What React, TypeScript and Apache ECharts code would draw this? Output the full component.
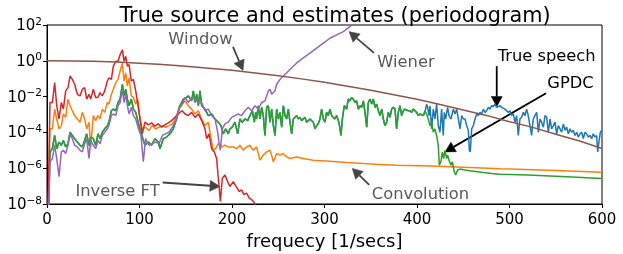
import React, { useEffect, useRef } from "react";
import * as echarts from "echarts";

const FONT = "'DejaVu Sans', 'Liberation Sans', sans-serif";

// All series are [frequency, log10(power)] pairs.
// Segment where "True speech" and "GPDC" coincide.
const sharedSpeechGpdc: [number, number][] = [
  [0,-12],[3.2,-5.1],[5.8,-4.9],[8.3,-4.17],[10.5,-4.91],[13,-4.54],[15.5,-4.72],[17.7,-4.45],[20.2,-4.81],[22.7,-4.63],[24.9,-3.99],[27.4,-4.17],[29.9,-4.35],[32.8,-4.54],[35.7,-4.72],[38.2,-4.81],[40.7,-4.45],[42.9,-4.08],[45.4,-4.72],[47.2,-4.26],[50.1,-4.35],[52.6,-4.72],[55.1,-4.08],[57.3,-4.35],[59.8,-3.99],[62.4,-3.8],[65.2,-3.62],[67,-3.43],[69.6,-2.79],[71.7,-2.7],[74.3,-2.79],[76.8,-2.33],[79,-2.14],[81.5,-1.31],[83.3,-1.96],[85.1,-1.59],[86.9,-2.14],[88.7,-2.51],[91.2,-2.14],[93.4,-2.7],[95.9,-2.88],[99.5,-3.62],
  [103,-4.26],[105.9,-4.72],[109.5,-4.54],[113.1,-4.72],[116.7,-4.35],[120.3,-4.54],[122.1,-4.91],[125.7,-4.35],[129.3,-4.26],[132.9,-4.08],[136.5,-3.8],[140.1,-3.25],[143.7,-2.51],[147.4,-2.14],[151,-2.05],[152.8,-1.96],[156.4,-2.24],[158.2,-1.68],[160,-2.33],[161.8,-1.87],[163.6,-2.51],[165.4,-1.68],[167.2,-2.51],[170.8,-2.7],[174.4,-3.06],[178,-2.97],[181.6,-3.25],[185.2,-3.43],[188.1,-3.62],[190.6,-4.08],[193.1,-3.8],[196,-4.08],[197.8,-3.8],
  [200.3,-3.71],[203.2,-3.43],[206.1,-4.08],[208.6,-3.25],[211.1,-3.43],[214,-3.25],[216.9,-3.34],[219.4,-3.06],[222,-2.79],[224.1,-3.43],[225.6,-2.88],[226.6,-3.25],[228.4,-2.51],[230.2,-3.25],[232.1,-2.6],[233.8,-3.06],[235.6,-4.17],[237.5,-2.6],[239.3,-2.51],[241.1,-3.43],[242.9,-2.7],[244.7,-3.62],[246.5,-4.17],[248.3,-2.7],[250.1,-3.25],[251.9,-2.88],[253.7,-3.71],[255.5,-2.51],[257.3,-3.06],[259.1,-3.25],[260.9,-2.7],[262.7,-3.43],[264.5,-4.08],[266.3,-3.25],[268.1,-3.16],[269.9,-3.06],[271.7,-3.25],[273.5,-3.16],[275.3,-3.34],[278.9,-3.16],[280.7,-3.43],[284.3,-3.25],[287.9,-3.43],[289.7,-3.8],[291.5,-3.62],[293.3,-3.52],[295.1,-3.25],
  [296.9,-2.7],[298.7,-3.25],[300.5,-3.43],[302.3,-2.88],[304.1,-3.06],[305.9,-2.7],[307.7,-3.06],[309.5,-3.16],[311.3,-3.25],[313.1,-3.06],[315.6,-3.43],[317.8,-4.17],[319.3,-3.25],[321.4,-2.51],[323.9,-2.7],[325.7,-2.14],[327.5,-2.24],[329.3,-2.05],[331.1,-2.14],[332.9,-2.33],[334.7,-2.24],[336.6,-2.7],[338.4,-2.51],[340.2,-2.6],[342,-2.24],[343.8,-2.88],[345.6,-3.71],[347.4,-2.33],[349.2,-2.14],[351,-2.42],[352.8,-2.14],[354.6,-2.6],[356.4,-2.42],[358.2,-2.79],[360,-3.06],[361.8,-2.7],[363.6,-3.25],[365.4,-3.62],[367.2,-3.43],[369,-2.88],[370.8,-3.16],[372.6,-2.7],[374.4,-2.6],[376.2,-2.7],[378,-3.8],[379.8,-2.88],[381.6,-2.51],[383.4,-3.06],[385.2,-2.79],[387,-2.7],[390.6,-2.79],[392.4,-2.79],[394.2,-2.88],[396,-2.7],[399.6,-2.88],[401.4,-3.06],[403.2,-2.97],
];

const trueSpeechTail: [number, number][] = [
  [406.8,-3.06],[408.6,-2.88],[410.4,-2.42],[411.5,-2.6],[413,-3.06],[414,-2.51],[415.8,-3.8],[417.6,-2.7],[419.4,-3.25],[421.2,-2.42],[423,-3.62],[424.8,-3.99],[426.6,-2.7],[428.4,-4.17],[429.5,-2.88],[431,-3.25],[433.1,-2.6],[434.6,-3.06],[436.7,-3.25],[439.3,-2.7],[441.1,-2.97],[442.9,-2.7],[444.7,-3.25],[446.5,-3.8],[448.3,-3.06],[450.1,-3.25],[451.9,-3.25],[453.7,-3.62],[455.5,-3.89],[456.6,-5],[457.6,-5.09],[459.1,-3.8],[460.9,-3.62],[462.7,-3.25],[464.5,-2.97],[466.3,-3.06],[468.1,-2.88],[469.9,-2.97],[471.7,-2.7],[473.5,-2.88],[475.3,-2.79],[477.1,-2.6],[478.9,-2.7],[480.7,-2.51],[482.5,-2.55],[484.3,-2.42],[486.1,-2.6],[489.7,-2.51],
  [491.5,-2.6],[495.1,-2.7],[498.7,-2.88],[500.5,-2.79],[502.3,-3.06],[504.1,-2.97],[505.9,-3.43],[507.7,-3.06],[509.5,-4.17],[511.3,-3.25],[513.1,-3.16],[514.9,-2.88],[516.7,-3.06],[518.5,-2.7],[520.3,-3.06],[522.1,-3.62],[523.9,-4.17],[525.7,-3.25],[527.5,-3.06],[529.4,-2.88],[531.2,-3.99],[533,-3.25],[534.8,-3.43],[536.6,-3.71],[538.4,-3.06],[540.2,-3.16],[542,-3.99],[543.8,-3.25],[545.6,-3.8],[547.4,-3.62],[549.2,-3.43],[551,-4.08],[552.8,-3.62],[554.6,-3.8],[556.4,-3.99],[558.2,-3.52],[560,-3.89],[561.8,-3.71],[563.6,-4.08],[565.4,-3.8],[567.2,-3.99],[569,-3.89],[570.8,-4.17],[572.6,-3.99],[574.4,-4.26],[576.2,-4.08],[578,-3.99],[579.8,-4.35],[581.6,-3.99],[583.4,-4.08],[585.2,-4.26],[587,-4.17],[588.8,-4.35],[590.6,-4.08],[592.4,-4.26],[594.2,-4.17],[595.3,-5.09],[596.7,-4.54],[598.2,-3.99],[599.6,-3.89],
];

const gpdcTail: [number, number][] = [
  [406.8,-3.06],[408.6,-2.79],[410.4,-2.97],[412.2,-3.25],[414,-3.62],[415.8,-3.43],[417.6,-3.99],[419.4,-3.8],[421.2,-4.17],[423,-4.72],[424.1,-5.83],[425.9,-5.64],[427.4,-5.09],[428.8,-5.46],[430.2,-5],[432,-5.46],[433.1,-5.27],[434.6,-5.55],[436.7,-5.83],[438.2,-5.64],[440.3,-6.2],[441.8,-6.38],[443.9,-6.1],[446.5,-6.05],[451.9,-6.1],[459.1,-6.15],[469.9,-6.23],[480.7,-6.29],[489.7,-6.34],[520,-6.38],[556,-6.47],[600,-6.58],
];

const wienerData: [number, number][] = [
  [0,-12],[3.2,-5.64],[5.8,-5.46],[8.3,-4.72],[10.5,-5.46],[13,-6.47],[15.5,-5.09],[17.7,-5],[20.2,-5.18],[22.7,-4.72],[24.9,-4.08],[27.4,-4.35],[29.9,-4.72],[32.8,-4.81],[35.7,-5],[38.2,-5.09],[40.7,-4.63],[42.9,-4.35],[45.4,-5.46],[47.2,-4.45],[50.1,-4.72],[52.6,-4.91],[55.1,-4.45],[57.3,-4.63],[59.8,-4.17],[62.4,-3.99],[65.2,-3.8],[67,-3.62],[69.6,-3.06],[71.7,-2.97],[74.3,-3.06],[76.8,-2.51],[79,-2.33],[81.5,-1.59],[83.3,-2.33],[85.1,-1.87],[86.9,-2.51],[88.7,-2.97],[91.2,-2.6],[93.4,-3.06],[95.9,-3.25],[99.5,-3.89],[101.6,-4.17],[104.1,-5.64],[106.6,-4.35],[110.2,-4.72],[113.8,-4.63],[117.4,-4.54],[121,-4.63],[124.7,-4.17],[128.3,-4.08],[131.9,-3.99],[135.5,-3.71],[139.1,-3.34],[142.7,-2.7],[146.3,-2.42],[149.2,-2.05],[152.8,-2.33],[156.4,-2.05],[160,-2.14],[163.6,-2.33],[167.2,-2.33],[170.8,-2.79],[174.4,-2.7],[178,-3.06],[181.6,-3.25],[184.5,-3.99],[185.9,-4.54],[187.4,-5],[189.5,-3.8],[192.4,-3.52],[196,-3.43],[199.6,-3.16],[203.2,-3.06],[206.8,-2.97],[210.4,-3.06],[214,-2.79],[217.6,-2.6],[221.2,-2.79],[224.8,-2.51],[228.4,-2.7],[232.1,-2.33],[235.6,-2.24],[239.3,-1.68],[241.1,-1.59],[242.9,-1.87],[246.5,-1.68],[248.3,-1.31],[251.9,-1.04],[255.5,-0.85],[259.1,-0.67],[262.7,-0.49],[269.9,-0.12],[277.1,0.16],[284.3,0.43],[291.5,0.71],[298.7,0.99],[305.9,1.26],[313.1,1.45],[320.3,1.63],[327.5,1.91],[331.1,2.06],[340,2.4],
];

const convolutionData: [number, number][] = [
  [0,-12],[3.2,-3.8],[5.8,-3.8],[8.3,-2.7],[10.5,-3.25],[13,-3.8],[15.5,-3.62],[17.7,-2.97],[20.2,-3.16],[22.7,-2.14],[24.9,-2.51],[27.4,-2.79],[29.9,-3.06],[32.8,-3.25],[35.7,-3.43],[38.2,-2.88],[40.7,-3.25],[42.9,-3.8],[45.4,-3.43],[47.2,-4.81],[50.1,-3.06],[52.6,-3.34],[55.1,-3.06],[57.3,-3.25],[59.8,-2.7],[62.4,-2.88],[65.2,-2.33],[67,-2.42],[69.6,-1.87],[71.7,-1.59],[74.3,-1.22],[76.8,-1.04],[79,-0.58],[81.5,-0.12],[83.3,-1.13],[85.1,-0.67],[86.9,-1.41],[88.7,-0.95],[91.2,-1.96],[93.4,-2.05],[95.9,-2.42],[98,-2.14],[100.5,-3.25],
  [103,-3.8],[106.6,-3.71],[110.2,-3.89],[113.8,-3.62],[117.4,-3.8],[121,-3.71],[124.7,-3.62],[128.3,-3.71],[131.9,-3.62],[135.5,-3.52],[139.1,-3.25],[142.7,-2.6],[146.3,-2.42],[149.2,-2.24],[152.8,-2.51],[156.4,-2.7],[160,-2.97],[163.6,-2.79],[167.2,-3.25],[170.8,-3.62],[174.4,-3.43],[177.3,-4.35],[179.8,-5],[182.3,-4.91],[185.2,-4.63],[188.8,-4.81],[192.4,-4.72],[196,-4.81],[201.4,-4.81],[205,-4.91],[208.6,-4.72],[212.2,-5],[215.8,-4.81],[219.4,-4.72],[223,-5],[226.6,-4.81],[230.2,-5.55],[233.8,-5.27],[237.4,-5.09],[241,-5],[242.8,-5.27],[244.7,-5.64],[248.3,-5.18],[251.9,-5.27],[255.5,-5.18],[259.1,-5.37],[262.7,-5.46],[269.9,-5.37],[277.1,-5.46],[287.9,-5.55],[305.9,-5.61],[323.9,-5.68],[341.9,-5.74],[360,-5.79],[378,-5.83],[414,-5.88],[450,-5.95],[490,-6.03],[550,-6.13],[600,-6.23],
];

const inverseFtData: [number, number][] = [
  [0,-12],[3.2,-2.33],[5.8,-2.33],[8.3,-1.22],[10.5,-2.51],[13,-3.25],[15.5,-2.33],[17.7,-2.7],[20.2,-1.68],[22.7,-1.5],[24.9,-0.85],[27.4,-1.04],[29.9,-1.31],[32.8,-1.87],[35.7,-1.96],[38.2,-1.59],[40.7,-1.5],[42.9,-2.14],[45.4,-1.87],[47.2,-2.14],[50.1,-1.59],[52.6,-2.05],[55.1,-2.05],[57.3,-1.78],[59.8,-1.96],[62.4,-1.68],[65.2,-1.13],[67,-0.95],[69.6,-1.04],[71.7,-0.3],[74.3,-0.03],[76.8,-0.03],[79,0.34],[81.5,0.62],[83.3,-0.03],[85.1,0.25],[86.9,-0.3],[88.7,-0.21],[91.2,-1.13],[93.4,-1.04],[95.9,-1.68],[98,-2.33],[100.5,-3.25],[103,-4.08],[105.9,-3.43],[109.5,-3.58],[113.1,-3.47],[116.7,-3.65],[120.3,-3.52],[123.9,-3.71],[127.5,-3.58],[131.1,-3.47],[134.7,-3.34],[138.3,-3.16],[141.9,-2.97],[146,-2.79],[149.2,-2.97],[152.8,-3.06],[156.4,-2.88],[160,-3.16],[163.6,-2.97],[167.2,-3.34],[170.8,-3.8],[172.6,-4.35],[175.1,-4.08],[178,-4.91],[180.9,-5.09],[183.4,-5.46],[185.2,-6.56],[187.4,-7.85],[189.5,-6.56],[192.4,-6.38],[195.3,-6.75],[197.8,-7.02],[201.4,-6.75],[204.3,-7.02],[207.9,-7.3],[210.4,-7.21],[212.9,-7.48],[215.8,-7.39],[218.7,-7.67],[221.2,-7.76],[223.7,-7.89],[226.6,-8.2],[230,-9.5],
];

const windowData: [number, number][] = [
  [0,0],[25,-0.01],[50,-0.03],[75,-0.07],[100,-0.13],[125,-0.21],[150,-0.3],[175,-0.41],[200,-0.53],[225,-0.68],[250,-0.84],[275,-1.01],[300,-1.2],[325,-1.42],[350,-1.65],[375,-1.9],[400,-2.15],[425,-2.44],[450,-2.75],[475,-3.05],[500,-3.4],[525,-3.72],[550,-4.1],[575,-4.47],[600,-4.9],
];

const xTicks = [0, 100, 200, 300, 400, 500, 600];
const yTickExponents = [-8, -6, -4, -2, 0, 2];

// Annotations: text position and arrow (tail -> tip), as [frequency, log10(power)]
const annotations = [
  { text: "Window", at: [165.9, 1.27], tail: [201.1, 0.78], tip: [211.9, -0.54], dark: false },
  { text: "Wiener", at: [388.1, -0.03], tail: [353.5, 0.44], tip: [326.5, 1.63], dark: false },
  { text: "Convolution", at: [403.8, -7.39], tail: [348.4, -6.93], tip: [330, -6.01], dark: false },
  { text: "Inverse FT", at: [76.2, -7.25], tail: [125.1, -6.8], tip: [187, -7.02], dark: false },
  { text: "True speech", at: [540.2, 0.29], tail: [486.2, -0.3], tip: [486.2, -2.55], dark: true },
  { text: "GPDC", at: [565.9, -1.24], tail: [539.5, -1.81], tip: [430.3, -5.09], dark: true },
];

const toValues = (arr: [number, number][]) => arr.map(([f, e]) => [f, Math.pow(10, e)]);

const supDigits = (e: number) => (e < 0 ? "\u2212" + String(-e) : String(e));

export default function App() {
  const ref = useRef<HTMLDivElement>(null);
  useEffect(() => {
    if (!ref.current) return;
    const chart = echarts.init(ref.current, undefined, { renderer: "svg" });
    const line = (name: string, color: string, data: [number, number][], z: number) => ({
      name,
      type: "line",
      data: toValues(data),
      showSymbol: false,
      symbol: "none",
      clip: true,
      z,
      lineStyle: { color, width: 1.5 },
      itemStyle: { color },
    });
    const yTickValues = yTickExponents.map((e) => Math.pow(10, e));
    chart.setOption({
      animation: false,
      grid: { left: 47, right: 21, top: 25, bottom: 48, show: true, borderColor: "#000", borderWidth: 1 },
      xAxis: {
        type: "value",
        min: 0,
        max: 600,
        interval: 100,
        name: "frequecy [1/secs]",
        nameLocation: "middle",
        nameGap: 27,
        nameTextStyle: { fontSize: 18, fontFamily: FONT, color: "#000" },
        axisLine: { show: true, onZero: false, lineStyle: { color: "#000", width: 1 } },
        axisTick: { show: true, inside: false, length: 4, lineStyle: { color: "#000" }, customValues: xTicks },
        axisLabel: { fontSize: 15, fontFamily: FONT, color: "#000", margin: 7, customValues: xTicks },
        splitLine: { show: false },
      },
      yAxis: {
        type: "log",
        logBase: 10,
        min: 1e-8,
        max: 1e2,
        axisLine: { show: true, lineStyle: { color: "#000", width: 1 } },
        axisTick: { show: true, inside: false, length: 4, lineStyle: { color: "#000" }, customValues: yTickValues },
        axisLabel: {
          customValues: yTickValues,
          margin: 5,
          color: "#000",
          fontFamily: FONT,
          formatter: (v: number) => `{b|10}{sup|${supDigits(Math.round(Math.log10(v)))}}`,
          rich: {
            b: { fontSize: 15, fontFamily: FONT, color: "#000" },
            sup: { fontSize: 10.5, fontFamily: FONT, color: "#000", padding: [0, 0, 9, 0] },
          },
        },
        splitLine: { show: false },
        minorTick: { show: false },
      },
      series: [
        line("True speech", "#1f77b4", [...sharedSpeechGpdc, ...trueSpeechTail], 1),
        line("Convolution", "#ff7f0e", convolutionData, 2),
        line("GPDC", "#2ca02c", [...sharedSpeechGpdc, ...gpdcTail], 3),
        line("Inverse FT", "#d62728", inverseFtData, 4),
        line("Wiener", "#9467bd", wienerData, 5),
        line("Window", "#8c564b", windowData, 6),
      ],
    });

    const px = (p: number[]) => chart.convertToPixel({ gridIndex: 0 }, [p[0], Math.pow(10, p[1])]) as number[];
    const elements: any[] = [
      {
        type: "text",
        x: 335,
        y: 15,
        style: {
          text: "True source and estimates (periodogram)",
          fontSize: 20.8,
          fontFamily: FONT,
          fill: "#000",
          align: "center",
          verticalAlign: "middle",
        },
      },
    ];
    annotations.forEach((a) => {
      const textColor = a.dark ? "#000" : "#595959";
      const arrowColor = a.dark ? "#000" : "#444";
      const t = px(a.at);
      const tail = px(a.tail);
      const tip = px(a.tip);
      const dx = tip[0] - tail[0];
      const dy = tip[1] - tail[1];
      const L = Math.hypot(dx, dy) || 1;
      const ux = dx / L;
      const uy = dy / L;
      const headLen = 10;
      const half = 5.5;
      const bx = tip[0] - ux * headLen;
      const by = tip[1] - uy * headLen;
      const nx = -uy;
      const ny = ux;
      elements.push({
        type: "line",
        silent: true,
        shape: { x1: tail[0], y1: tail[1], x2: bx, y2: by },
        style: { stroke: arrowColor, lineWidth: 1.8 },
      });
      elements.push({
        type: "polygon",
        silent: true,
        shape: { points: [[tip[0], tip[1]], [bx + nx * half, by + ny * half], [bx - nx * half, by - ny * half]] },
        style: { fill: arrowColor, stroke: arrowColor, lineWidth: 0.5 },
      });
      elements.push({
        type: "text",
        x: t[0],
        y: t[1],
        silent: true,
        style: { text: a.text, fontSize: 16.3, fontFamily: FONT, fill: textColor, align: "center", verticalAlign: "middle" },
      });
    });
    chart.setOption({ graphic: { elements } });

    return () => chart.dispose();
  }, []);
  return <div ref={ref} style={{ position: "fixed", left: 0, top: 0, width: 623, height: 254 }} />;
}
